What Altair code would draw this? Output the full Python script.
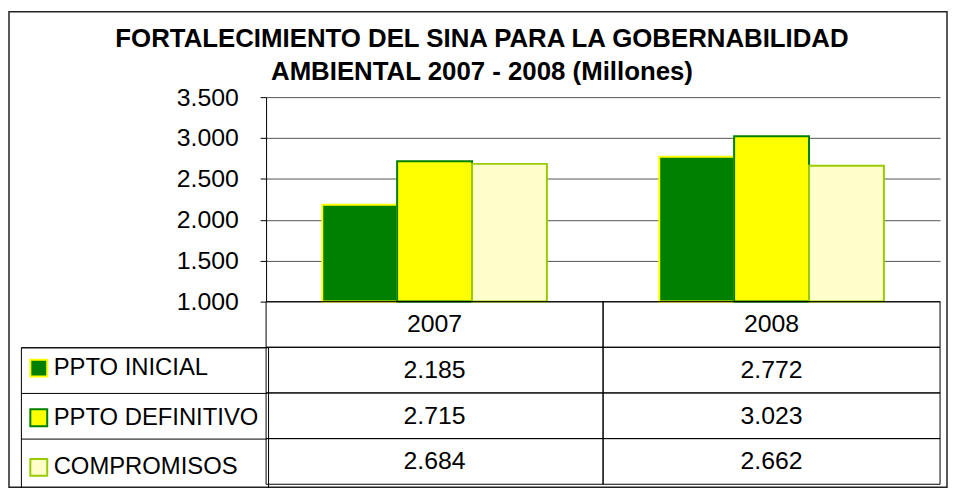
import altair as alt
import pandas as pd

# ---------------- data ----------------
years = ["2007", "2008"]
series = ["PPTO INICIAL", "PPTO DEFINITIVO", "COMPROMISOS"]
ppto_inicial = [2185, 2772]
ppto_definitivo = [2715, 3023]
compromisos = [2684, 2662]
y_ticks = [1000, 1500, 2000, 2500, 3000, 3500]
header_row = "AÑO"
title_lines = ["FORTALECIMIENTO DEL SINA PARA LA GOBERNABILIDAD",
               "AMBIENTAL 2007 - 2008 (Millones)"]

# ---------------- styles ----------------
fills = ["#008000", "#FFFF00", "#FFFFCC"]
strokes = ["#FFFF00", "#008000", "#99CC00"]
FONT = "Liberation Sans"


def fmt(v):
    return f"{v:,}".replace(",", ".")


values_by_series = dict(zip(series, [ppto_inicial, ppto_definitivo, compromisos]))
bars_df = pd.DataFrame(
    [{"year": y, "series": s, "value": values_by_series[s][i]}
     for s in series for i, y in enumerate(years)]
)
rows = [header_row] + series
table_df = pd.DataFrame(
    [{"year": y, "row": header_row, "label": y} for y in years]
    + [{"year": y, "row": s, "label": fmt(values_by_series[s][i])}
       for s in series for i, y in enumerate(years)]
)

x_enc = alt.X("year:N", sort=years,
              scale=alt.Scale(domain=years, paddingInner=0, paddingOuter=0),
              axis=None)

legend = alt.Legend(
    title=None, orient="none", legendX=-247, legendY=252, direction="vertical",
    labelFontSize=24, labelFont=FONT, labelColor="black", labelLimit=400,
    symbolType="square", symbolSize=289, symbolStrokeWidth=2, symbolOffset=-3,
    rowPadding=24, padding=9, strokeColor="black", labelOffset=3,
)

bars = alt.Chart(bars_df).mark_bar(strokeWidth=2).encode(
    x=x_enc,
    xOffset=alt.XOffset("series:N", sort=series,
                        scale=alt.Scale(domain=series, paddingInner=0, paddingOuter=0.75)),
    y=alt.Y("value:Q",
            scale=alt.Scale(domain=[1000, 3500], range=[206, 0], zero=False, nice=False),
            axis=alt.Axis(orient="left", offset=0, values=y_ticks,
                          labelExpr="replace(format(datum.value, ','), ',', '.')",
                          labelFontSize=25, labelFont=FONT, labelColor="black",
                          labelPadding=22, tickSize=6, tickColor="black",
                          domainColor="black", grid=True, gridColor="#555555",
                          title=None)),
    y2=alt.datum(1000),
    fill=alt.Fill("series:N", scale=alt.Scale(domain=series, range=fills), legend=legend),
    stroke=alt.Stroke("series:N", scale=alt.Scale(domain=series, range=strokes), legend=legend),
)

y_table = alt.Y("row:N", sort=rows,
                scale=alt.Scale(domain=rows, range=[206, 390], paddingInner=0, paddingOuter=0),
                axis=alt.Axis(orient="left", offset=0, values=series, bandPosition=0,
                              tickSize=247, tickColor="black", tickWidth=1,
                              domain=False, labels=False, grid=False, title=None))

cells = alt.Chart(table_df).mark_rect(fillOpacity=0, stroke="black", strokeWidth=1).encode(
    x=x_enc, y=y_table)
texts = alt.Chart(table_df).mark_text(fontSize=25, font=FONT, color="black",
                                      baseline="middle", align="center").encode(
    x=x_enc, y=y_table, text="label:N")
table = alt.layer(cells, texts)

frame = alt.Chart(pd.DataFrame({"f": [0]})).mark_rect(
    fillOpacity=0, stroke="#222222", strokeWidth=1.5).encode(
    x=alt.value(-259), x2=alt.value(686), y=alt.value(-86), y2=alt.value(393))

chart = alt.layer(frame, bars, table).resolve_scale(y="independent").properties(
    width=679, height=390,
    padding={"left": 0, "top": 1, "right": 0, "bottom": 0},
    title=alt.TitleParams(text=title_lines, fontSize=26, font=FONT, fontWeight="bold",
                          color="black", anchor="middle", frame="bounds", dx=4,
                          offset=-75, lineHeight=34),
).configure_view(stroke=None)

chart.save("out.html", embed_options={"renderer": "svg", "actions": False})
